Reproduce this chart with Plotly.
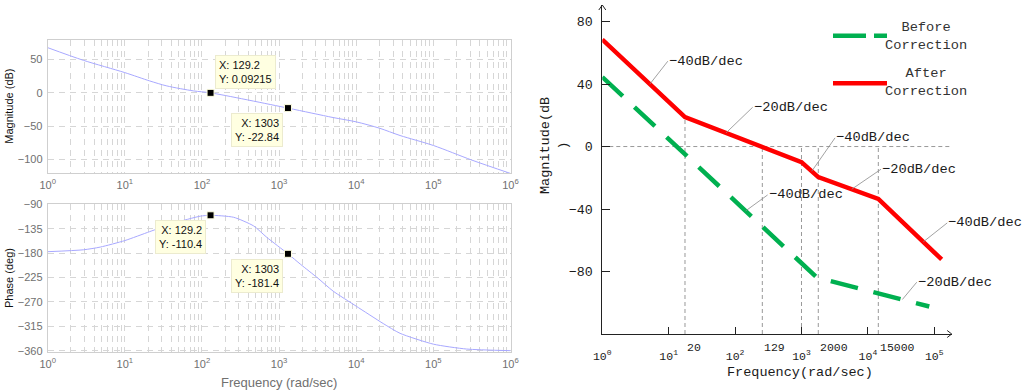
import numpy as np
import plotly.graph_objects as go

# ---------------- Left: Bode plot ----------------
mag_freq = [1, 2.9, 10, 21, 35, 78, 129.2, 1303, 5000, 10000, 20000, 37000, 100000, 316000, 1000000]
mag_db = [68, 49, 30.5, 18, 10.5, 3, 0.09215, -22.84, -37, -43.5, -53, -64, -79, -101, -121]

phase_freq = [1, 2.9, 4.8, 10, 21, 43, 95, 129.2, 257, 468, 692, 1303, 1905, 3162, 5000,
              10000, 22400, 37000, 100000, 270000, 1000000]
phase_deg = [-177.5, -174, -169, -157, -140.5, -125, -112, -110.4, -114, -130, -151, -181.4,
             -201, -226, -250, -278, -310, -328, -348, -357, -360]

tip_freq = [129.2, 1303]
tip_mag = [0.09215, -22.84]
tip_phase = [-110.4, -181.4]

mag_ticks = [50, 0, -50, -100]
phase_ticks = [-90, -135, -180, -225, -270, -315, -360]
left_decades = [0, 1, 2, 3, 4, 5, 6]

# ---------------- Right: asymptotic magnitude plot ----------------
before_freq = [1, 1700, 84000]
before_db = [44.5, -83.8, -102.4]
after_freq = [1, 17.6, 1000, 1790, 14350, 129000]
after_db = [68.5, 18.8, -10, -19.6, -33.5, -72.3]

break_freq = [17.6, 257, 1000, 1790, 14350]
break_text = ["20", "129", "", "2000", "15000"]

slope_text = ["−40dB/dec", "−20dB/dec", "−40dB/dec", "−20dB/dec", "−40dB/dec", "−40dB/dec", "−20dB/dec"]
slope_curve = ["after", "after", "after", "after", "before", "after", "before"]
slope_freq = [5.2, 72.8, 1425, 5700, 144, 68200, 33000]

right_ticks_db = [80, 40, 0, -40, -80]
right_decades = [0, 1, 2, 3, 4, 5]

# ---------------- styling / layout constants ----------------
W, H = 1024, 392
SANS = "Liberation Sans"
MONO = "Liberation Mono"
GRID = "#d6d6d6"
TICKGRAY = "#707070"
CURVE = "#a8a8ff"
RED = "#ff0000"
GREEN = "#00b050"
TIPBG = "#ffffe1"

LX = [47.7 / W, 510.5 / W]
TOP_Y = [1 - 173.3 / H, 1 - 40 / H]
BOT_Y = [1 - 352.3 / H, 1 - 203.7 / H]
RX = [602.3 / W, 951.7 / W]
RY = [1 - 334 / H, 1 - 5 / H]
R_XRANGE = [0, 5.262]
R_YRANGE = [-120, 90.6]

fig = go.Figure()

# Left curves
fig.add_trace(go.Scatter(x=mag_freq, y=mag_db, mode="lines", line=dict(color=CURVE, width=1, shape="spline", smoothing=0.8),
                         xaxis="x", yaxis="y", hoverinfo="skip"))
fig.add_trace(go.Scatter(x=phase_freq, y=phase_deg, mode="lines", line=dict(color=CURVE, width=1, shape="spline", smoothing=0.6),
                         xaxis="x2", yaxis="y2", hoverinfo="skip"))
fig.add_trace(go.Scatter(x=tip_freq, y=tip_mag, mode="markers", xaxis="x", yaxis="y",
                         marker=dict(symbol="square", size=7, color="black", line=dict(color=TIPBG, width=1)), cliponaxis=False))
fig.add_trace(go.Scatter(x=tip_freq, y=tip_phase, mode="markers", xaxis="x2", yaxis="y2",
                         marker=dict(symbol="square", size=7, color="black", line=dict(color=TIPBG, width=1)), cliponaxis=False))

# Right: vertical dashed guide lines
def interp_db(freqs, dbs, f):
    return float(np.interp(np.log10(f), np.log10(freqs), dbs))

vx, vy = [], []
for f in break_freq:
    top = max(interp_db(after_freq, after_db, f), 0)
    vx += [f, f, None]
    vy += [R_YRANGE[0], top, None]
fig.add_trace(go.Scatter(x=vx, y=vy, mode="lines", line=dict(color="#999999", width=1, dash="4px,3px"),
                         xaxis="x3", yaxis="y3", hoverinfo="skip"))
fig.add_trace(go.Scatter(x=before_freq, y=before_db, mode="lines", line=dict(color=GREEN, width=4.5, dash="28px,16px"),
                         xaxis="x3", yaxis="y3", hoverinfo="skip"))
fig.add_trace(go.Scatter(x=after_freq, y=after_db, mode="lines", line=dict(color=RED, width=4.5),
                         xaxis="x3", yaxis="y3", hoverinfo="skip"))

def left_x(domain_y_anchor):
    return dict(domain=LX, anchor=domain_y_anchor, type="log", range=[0, 6], automargin=False,
                tickvals=[10 ** d for d in left_decades],
                ticktext=[f"10<sup>{d}</sup>" for d in left_decades],
                tickfont=dict(family=SANS, size=11, color=TICKGRAY), ticks="",
                showline=True, mirror=True, linecolor="#cfcfcf", linewidth=1,
                showgrid=True, gridcolor=GRID, griddash="6px,5px", gridwidth=1,
                minor=dict(tickvals=[k * 10 ** d for d in range(6) for k in range(2, 10)],
                           showgrid=True, gridcolor=GRID, griddash="6px,5px", gridwidth=1, ticks=""),
                zeroline=False, fixedrange=True, ticklabelstandoff=1)

def left_y(domain, anchor, rng, ticks):
    return dict(domain=domain, anchor=anchor, range=rng, tickvals=ticks, automargin=False,
                tickfont=dict(family=SANS, size=11, color=TICKGRAY), ticks="",
                showline=True, mirror=True, linecolor="#cfcfcf", linewidth=1,
                showgrid=True, gridcolor=GRID, griddash="6px,5px", gridwidth=1,
                zeroline=False, fixedrange=True, ticklabelstandoff=2)

annotations = []
# datatips
tip_specs = [
    ("x", "y", tip_freq[0], tip_mag[0], "left", "bottom", 4, 4, "left"),
    ("x", "y", tip_freq[1], tip_mag[1], "right", "top", -5, -5, "right"),
    ("x2", "y2", tip_freq[0], tip_phase[0], "right", "top", -5, -5, "right"),
    ("x2", "y2", tip_freq[1], tip_phase[1], "right", "top", -5, -5, "right"),
]
for xr, yr, fx, fy, xa, ya, xs, ys, al in tip_specs:
    annotations.append(dict(xref=xr, yref=yr, x=np.log10(fx), y=fy, text=f"X: {fx:g}<br>Y: {fy:g}",
                            showarrow=False, xanchor=xa, yanchor=ya, xshift=xs, yshift=ys, align=al,
                            bgcolor=TIPBG, bordercolor="#ecebcf", borderwidth=1, borderpad=3,
                            font=dict(family=SANS, size=11, color="#111111")))

def paper_text(x, y, text, font, angle=0):
    return dict(xref="paper", yref="paper", x=x / W, y=1 - y / H, text=text, textangle=angle,
                showarrow=False, xanchor="center", yanchor="middle", align="center", font=font)

# left titles
annotations += [
    paper_text(9, 106.7, "Magnitude (dB)", dict(family=SANS, size=11, color="#111111"), -90),
    paper_text(9, 278, "Phase (deg)", dict(family=SANS, size=11, color="#111111"), -90),
    paper_text(279, 382, "Frequency (rad/sec)", dict(family=SANS, size=13, color=TICKGRAY)),
]
# right: slope labels with leader lines
slope_offsets = [(18, -23), (26.7, -25.7), (23.3, -33.4), (29.3, -20), (22, -16), (24, -19), (14.4, -17.3)]
for txt, crv, f, (ax, ay) in zip(slope_text, slope_curve, slope_freq, slope_offsets):
    yv = interp_db(after_freq, after_db, f) if crv == "after" else interp_db(before_freq, before_db, f)
    annotations.append(dict(xref="x3", yref="y3", x=np.log10(f), y=yv, text=txt, showarrow=True,
                            arrowhead=0, arrowwidth=0.8, arrowcolor="#8a8a8a", ax=ax, ay=ay,
                            xanchor="left", yanchor="middle", borderpad=0, standoff=0,
                            font=dict(family=MONO, size=13.7, color="#1a1a1a")))
# right: break frequency labels
for f, t in zip(break_freq, break_text):
    if t:
        annotations.append(dict(xref="x3", yref="y3", x=np.log10(f), y=R_YRANGE[0], text=t, showarrow=False,
                                xanchor="left", yanchor="top", yshift=-5,
                                font=dict(family=MONO, size=11.5, color="#1a1a1a")))
# right: titles and legend text
annotations += [
    paper_text(800, 372.7, "Frequency(rad/sec)", dict(family=MONO, size=13.5, color="#1a1a1a")),
    paper_text(554, 146, "Magnitude(dB<br>)", dict(family=MONO, size=13.5, color="#1a1a1a"), -90),
    paper_text(926, 36, "Before<br>Correction", dict(family=MONO, size=13.7, color="#333333")),
    paper_text(926, 82.5, "After<br>Correction", dict(family=MONO, size=13.7, color="#333333")),
]

shapes = [
    dict(type="line", xref="x3 domain", yref="y3", x0=0, x1=1, y0=0, y1=0,
         line=dict(color="#999999", width=1, dash="4px,3px"), layer="below"),
    dict(type="path", xref="x3 domain", yref="y3 domain", xsizemode="pixel", ysizemode="pixel",
         xanchor=0, yanchor=1, path="M -3.5,-5 L 0,0 L 3.5,-5", line=dict(color="#222222", width=1)),
    dict(type="path", xref="x3 domain", yref="y3 domain", xsizemode="pixel", ysizemode="pixel",
         xanchor=1, yanchor=0, path="M -4.5,3.5 L 0,0 L -4.5,-3.5", line=dict(color="#222222", width=1)),
    dict(type="line", xref="paper", yref="paper", x0=833 / W, x1=887 / W, y0=1 - 35.7 / H, y1=1 - 35.7 / H,
         line=dict(color=GREEN, width=4.5, dash="33px,8px")),
    dict(type="line", xref="paper", yref="paper", x0=833 / W, x1=887 / W, y0=1 - 83.3 / H, y1=1 - 83.3 / H,
         line=dict(color=RED, width=4.5)),
]

fig.update_layout(
    width=W, height=H, margin=dict(l=0, r=0, t=0, b=0, pad=0, autoexpand=False), autosize=False,
    paper_bgcolor="white", plot_bgcolor="white", showlegend=False, hovermode=False,
    xaxis=left_x("y"), yaxis=left_y(TOP_Y, "x", [-120.8, 79.5], mag_ticks),
    xaxis2=left_x("y2"), yaxis2=left_y(BOT_Y, "x2", [-363, -89], phase_ticks),
    xaxis3=dict(domain=RX, anchor="y3", type="log", range=R_XRANGE, automargin=False,
                tickvals=[10 ** d for d in right_decades],
                ticktext=[f"10<sup>{d}</sup>" for d in right_decades],
                tickfont=dict(family=MONO, size=11.5, color="#1a1a1a"),
                ticks="inside", ticklen=7, tickcolor="#222222", tickwidth=1,
                showline=True, linecolor="#222222", linewidth=1, showgrid=False, zeroline=False,
                ticklabelstandoff=11, fixedrange=True),
    yaxis3=dict(domain=RY, anchor="x3", range=R_YRANGE, tickvals=right_ticks_db, automargin=False,
                tickfont=dict(family=MONO, size=13.3, color="#1a1a1a"),
                ticks="inside", ticklen=8, tickcolor="#222222", tickwidth=1,
                showline=True, linecolor="#222222", linewidth=1, showgrid=False, zeroline=False,
                ticklabelstandoff=6, fixedrange=True),
    annotations=annotations, shapes=shapes,
)

fig.write_html("out.html", config={"displayModeBar": False, "staticPlot": True},
               post_script="document.body.style.margin='0';document.body.style.overflow='hidden';")
